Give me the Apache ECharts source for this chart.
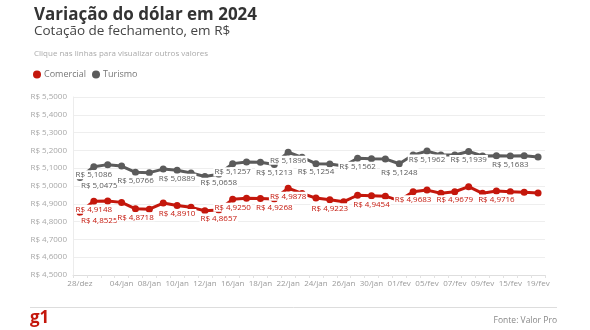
<!DOCTYPE html>
<html>
<head>
<meta charset="utf-8">
<script src="https://cdn.jsdelivr.net/npm/echarts@6/dist/echarts.min.js"></script>
<style>
  html, body { margin: 0; padding: 0; background: #fff; }
  #chart { width: 590px; height: 330px; }
</style>
</head>
<body>
<div id="chart"></div>
<script>
// Trading days (dd/mmm)
const categories = [
  '28/dez', '02/jan', '03/jan', '04/jan', '05/jan', '08/jan', '09/jan', '10/jan',
  '11/jan', '12/jan', '15/jan', '16/jan', '17/jan', '18/jan', '19/jan', '22/jan',
  '23/jan', '24/jan', '25/jan', '26/jan', '29/jan', '30/jan', '31/jan', '01/fev',
  '02/fev', '05/fev', '06/fev', '07/fev', '08/fev', '09/fev', '14/fev', '15/fev',
  '16/fev', '19/fev'
];

// Closing quotes, R$ per US$
const comercial = [
  4.8525, 4.9148, 4.9160, 4.9080, 4.8718, 4.8700, 4.9040, 4.8910,
  4.8800, 4.8610, 4.8657, 4.9250, 4.9310, 4.9300, 4.9268, 4.9878,
  4.9580, 4.9320, 4.9223, 4.9120, 4.9480, 4.9454, 4.9430, 4.9180,
  4.9683, 4.9770, 4.9590, 4.9679, 4.9960, 4.9590, 4.9716, 4.9680,
  4.9650, 4.9600
];
const turismo = [
  5.0475, 5.1086, 5.1200, 5.1120, 5.0766, 5.0750, 5.0950, 5.0889,
  5.0730, 5.0530, 5.0658, 5.1257, 5.1350, 5.1330, 5.1213, 5.1896,
  5.1610, 5.1254, 5.1240, 5.1120, 5.1562, 5.1530, 5.1520, 5.1248,
  5.1740, 5.1962, 5.1740, 5.1740, 5.1939, 5.1690, 5.1700, 5.1683,
  5.1700, 5.1630
];

// Points whose value is written next to the line
const comercialLabelIdx = [0, 1, 4, 7, 10, 11, 14, 15, 18, 21, 24, 27, 30];
const turismoLabelIdx = [0, 1, 4, 7, 10, 11, 14, 15, 17, 20, 23, 25, 28, 31];

// Value axis
const yMin = 4.5, yMax = 5.5, yStep = 0.1;

const FONT = 'Open Sans';
const RED = '#c4170c';
const GRAY = '#5b5b5b';

function brl(v) {
  return 'R$ ' + v.toFixed(4).replace('.', ',');
}

function points(values, labelIdx) {
  return values.map(function (v, i) {
    if (labelIdx.indexOf(i) === -1) return v;
    const item = { value: v, label: { show: true } };
    if (i === 0) item.label.align = 'left';
    return item;
  });
}

function lineSeries(name, values, labelIdx, color) {
  return {
    name: name,
    type: 'line',
    data: points(values, labelIdx),
    color: color,
    symbol: 'circle',
    symbolSize: 7,
    showAllSymbol: true,
    lineStyle: { width: 3, color: color, join: 'round' },
    itemStyle: { color: color },
    label: {
      show: false,
      position: 'bottom',
      distance: 0,
      formatter: function (p) { return brl(p.value); },
      fontFamily: FONT,
      fontSize: 8,
      color: color,
      backgroundColor: '#fff',
      padding: [1, 1, 0, 1]
    },
    emphasis: { disabled: true }
  };
}

const chart = echarts.init(document.getElementById('chart'), null, { renderer: 'canvas' });

chart.setOption({
  animation: false,
  backgroundColor: '#fff',
  textStyle: { fontFamily: FONT },
  legend: {
    left: 33,
    top: 70,
    padding: 0,
    icon: 'circle',
    itemWidth: 8,
    itemHeight: 8,
    itemGap: 6,
    selectedMode: false,
    textStyle: { fontFamily: FONT, fontSize: 9, color: '#777', padding: [0, 0, 0, -2] },
    data: ['Comercial', 'Turismo']
  },
  grid: { left: 73, right: 45, top: 97, bottom: 55, containLabel: false },
  xAxis: {
    type: 'category',
    data: categories,
    boundaryGap: true,
    axisLine: { lineStyle: { color: '#dedede' } },
    axisTick: { show: true, interval: 0, length: 3, lineStyle: { color: '#e2e2e2' } },
    axisLabel: {
      interval: function (i) { return i === 0 || (i % 2 === 1 && i > 1); },
      fontFamily: FONT,
      fontSize: 8,
      color: '#9a9a9a',
      margin: 5
    }
  },
  yAxis: {
    type: 'value',
    min: yMin,
    max: yMax,
    interval: yStep,
    axisLine: { show: true, lineStyle: { color: '#ececec' } },
    axisTick: { show: false },
    splitLine: { lineStyle: { color: '#eeeeee' } },
    axisLabel: {
      formatter: function (v) { return brl(v); },
      fontFamily: FONT,
      fontSize: 8,
      color: '#a8a8a8',
      margin: 6
    }
  },
  series: [
    lineSeries('Comercial', comercial, comercialLabelIdx, RED),
    lineSeries('Turismo', turismo, turismoLabelIdx, GRAY)
  ],
  graphic: [
    {
      type: 'text', left: 34, top: 7,
      style: { text: 'Variação do dólar em 2024', font: 'bold 17px "Open Sans"', fill: '#333' }
    },
    {
      type: 'text', left: 34, top: 24,
      style: { text: 'Cotação de fechamento, em R$', font: '13.5px "Open Sans"', fill: '#444' }
    },
    {
      type: 'text', left: 34, top: 50,
      style: { text: 'Clique nas linhas para visualizar outros valores', font: '8px "Open Sans"', fill: '#aaa' }
    },
    {
      type: 'line',
      shape: { x1: 30, y1: 307.5, x2: 557, y2: 307.5 },
      style: { stroke: '#dddddd', lineWidth: 1 }
    },
    {
      type: 'text', left: 30, top: 310,
      style: { text: 'g1', font: 'bold 17px "Open Sans"', fill: RED }
    },
    {
      type: 'text', right: 33, top: 316,
      style: { text: 'Fonte: Valor Pro', font: '8.5px "Open Sans"', fill: '#888' }
    }
  ]
});
</script>
</body>
</html>
